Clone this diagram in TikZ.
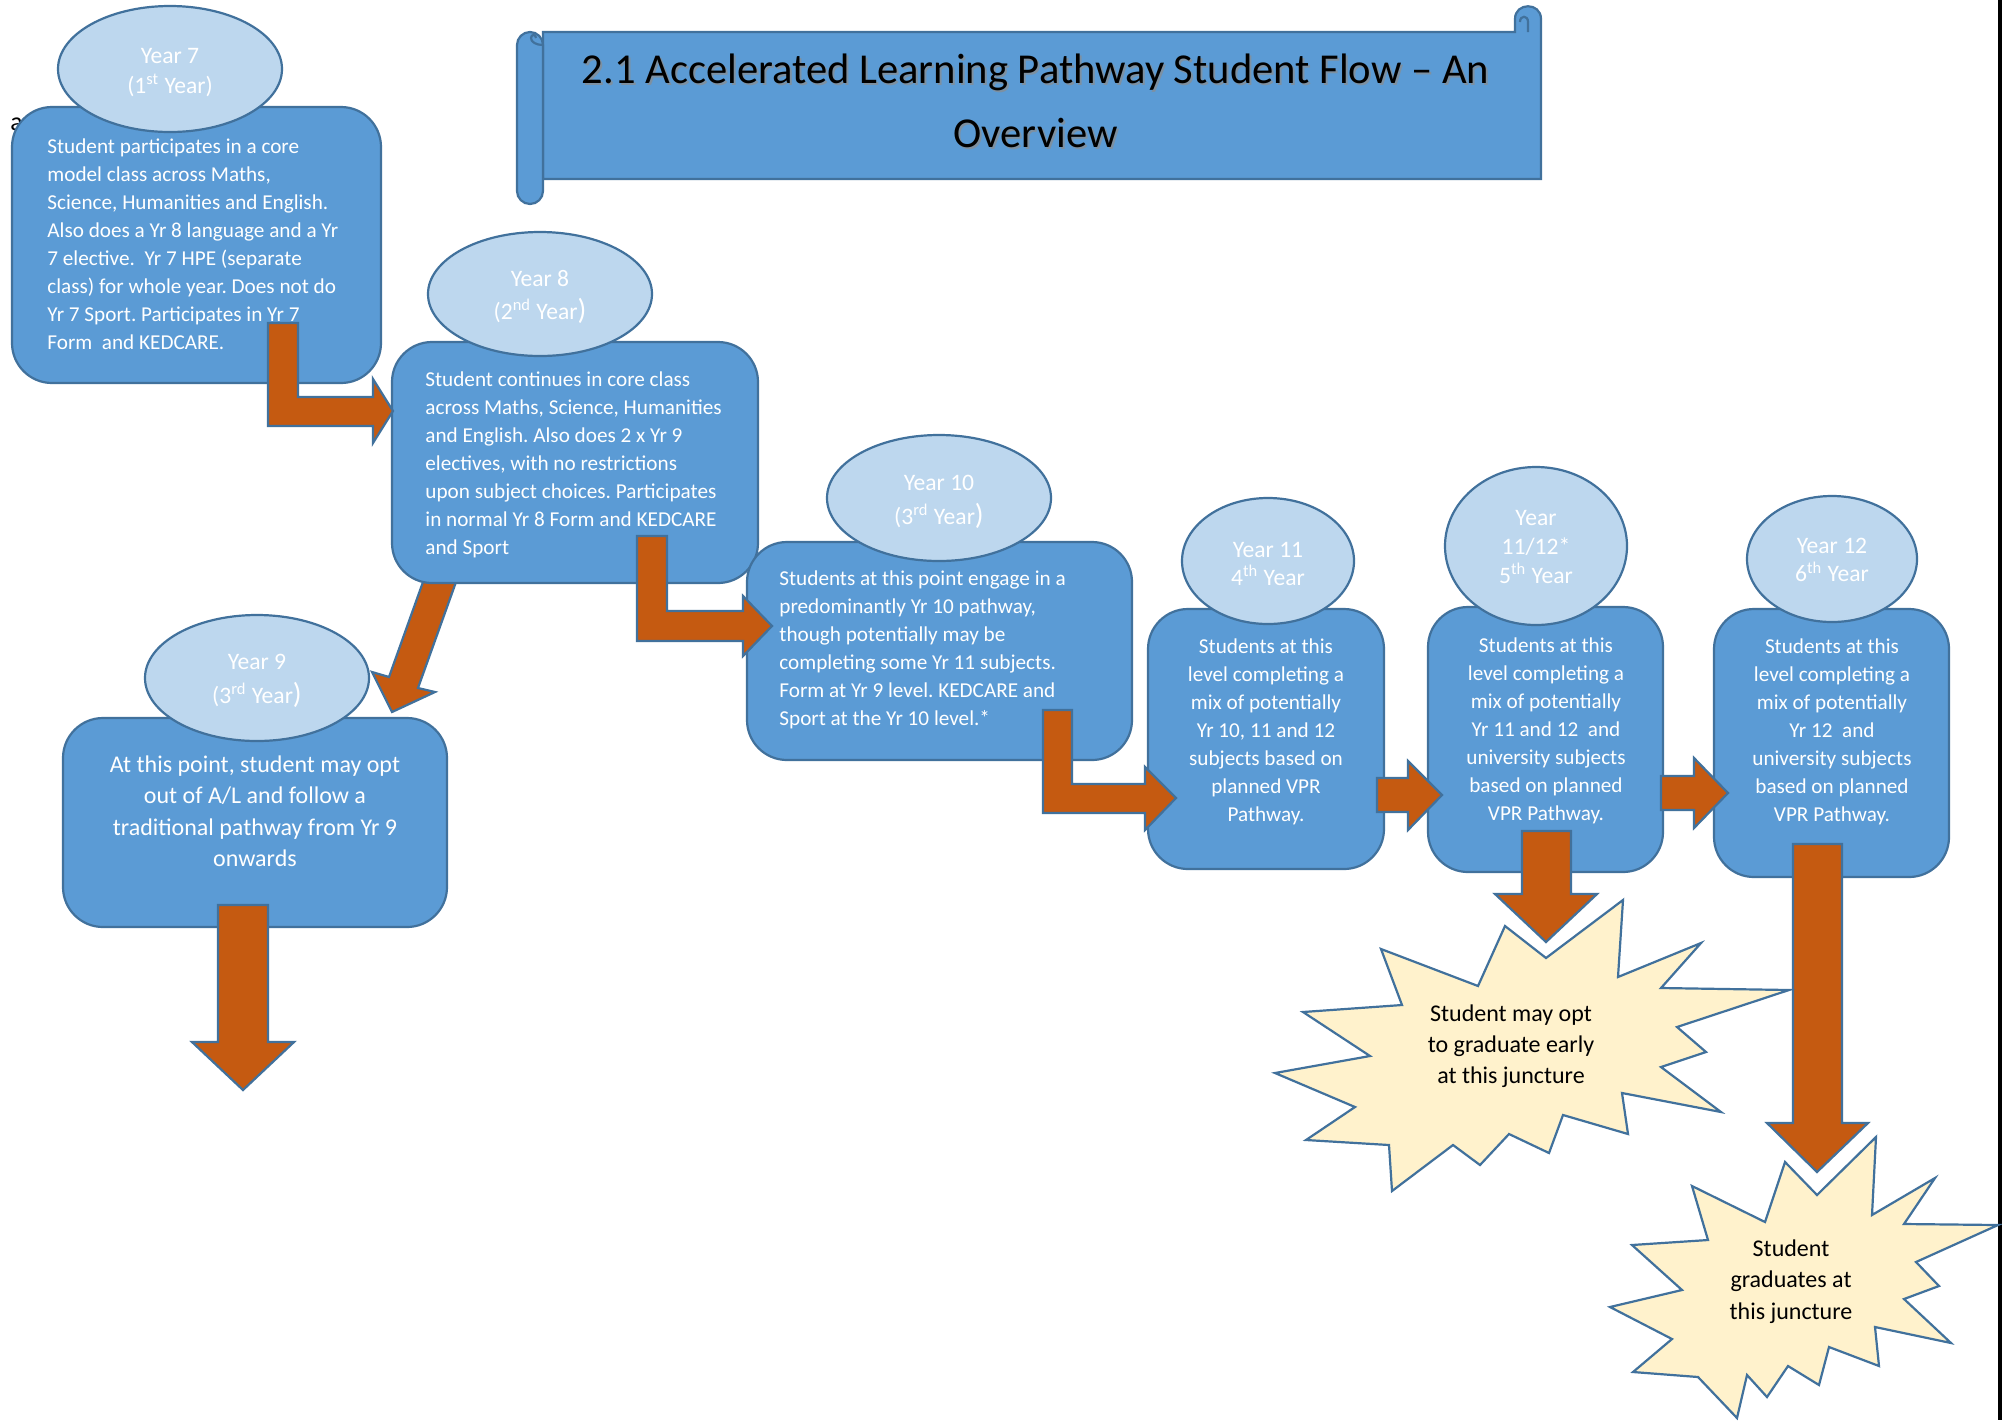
\documentclass[tikz,border=0pt]{standalone}
\usepackage{fontspec}
\setmainfont{Carlito}
\usetikzlibrary{shapes.geometric}
\definecolor{boxc}{RGB}{91,155,213}
\definecolor{bordc}{RGB}{65,113,156}
\definecolor{ovalc}{RGB}{189,215,238}
\definecolor{arrc}{RGB}{197,90,17}
\definecolor{burstc}{RGB}{255,242,204}
\newcommand\TL[1]{\vtop{\halign{##\hfil\cr#1\crcr}}}
\newcommand\TC[1]{\vtop{\halign{\hfil##\hfil\cr#1\crcr}}}
\newcommand\bodyfont{\fontsize{10.6}{14}\selectfont}
\newcommand\bp{{\fontsize{14.5}{15}\selectfont )}}
\frenchspacing
\tikzset{
  box/.style={draw=bordc, fill=boxc, line width=1.1pt, rounded corners=20pt, inner sep=0pt},
  oval/.style={ellipse, draw=bordc, fill=ovalc, line width=1.1pt, inner sep=0pt},
  barrow/.style={draw=bordc, fill=arrc, line width=1.1pt, line join=miter},
  burst/.style={draw=bordc, fill=burstc, line width=1.1pt, line join=miter},
  banner/.style={draw=bordc, fill=boxc, line width=1.1pt},
  btext/.style={font=\bodyfont, text=white, inner sep=0pt},
  otext/.style={text=white, inner sep=0pt, anchor=base},
  ktext/.style={font=\fontsize{12}{15.8}\selectfont, text=black, inner sep=0pt, anchor=base},
}
\begin{document}
\begin{tikzpicture}[x=0.5pt,y=-0.5pt]
\useasboundingbox (0,0) rectangle (2002,1420);
\fill[white] (0,0) rectangle (2002,1420);
\fill[black] (1997.5,0) rectangle (2002,1420);

% stray letter
\node[anchor=base west, inner sep=0pt, font=\fontsize{13}{15}\selectfont] (stray) at (10,130) {a};

% banner
\draw[banner] (543,32) -- (1515,32) -- (1515,19) .. controls (1515,2) and (1541,2) .. (1541,19) -- (1541,179) -- (543,179) -- cycle;
\draw[bordc, line width=1.1pt] (1528,32) -- (1528,22) .. controls (1528,15) and (1520,15) .. (1520,22);
\draw[banner, rounded corners=6.5pt] (517,32) rectangle (543,204);
\draw[bordc, line width=1.1pt] (543,45) .. controls (536,45) and (531,42) .. (531,38) .. controls (531,34) and (536,34) .. (536,38);
\node[anchor=base, inner sep=0pt, text=black!45, opacity=0.7, font=\fontsize{21.3}{32}\selectfont] (titleshadow) at (1037.5,85) {\TC{2.1 Accelerated Learning Pathway Student Flow – An\cr Overview}};
\node[anchor=base, inner sep=0pt, text=black, font=\fontsize{21.3}{32}\selectfont] (title) at (1035.5,83) {\TC{2.1 Accelerated Learning Pathway Student Flow – An\cr Overview}};

% diagonal arrow Year 8 -> Year 9 (under box 8)
\draw[barrow] (423,582) -- (389,677) -- (372,672) -- (392,712) -- (435,692) -- (418,688) -- (456,582) -- cycle;

% Year 7
\node[box, minimum width=184.5pt, minimum height=138pt] (b7) at (196.5,245) {};
\node[oval, minimum width=112pt, minimum height=63pt] (e7) at (170,69) {};
\node[otext, font=\fontsize{11.8}{15}\selectfont] (l7) at (170,63) {\TC{Year 7\cr (1\textsuperscript{st} Year)}};
\node[btext, anchor=base west] (t7) at (47,153) {\TL{Student participates in a core\cr model class across Maths,\cr Science, Humanities and English.\cr Also does a Yr 8 language and a Yr\cr 7 elective.\ \ Yr 7 HPE (separate\cr class) for whole year. Does not do\cr Yr 7 Sport. Participates in Yr 7\cr Form\ \ and KEDCARE.}};

% Year 8
\node[box, minimum width=183pt, minimum height=120.5pt] (b8) at (575,462.5) {};
\node[oval, minimum width=112pt, minimum height=62pt] (e8) at (540,294) {};
\node[otext, font=\fontsize{11.8}{16.5}\selectfont] (l8) at (540,286) {\TC{Year 8\cr (2\textsuperscript{nd} Year\bp}};
\node[btext, anchor=base west] (t8) at (425,386) {\TL{Student continues in core class\cr across Maths, Science, Humanities\cr and English. Also does 2 x Yr 9\cr electives, with no restrictions\cr upon subject choices. Participates\cr in normal Yr 8 Form and KEDCARE\cr and Sport}};

% Year 9
\node[box, minimum width=192pt, minimum height=104.5pt] (b9) at (255,822.5) {};
\node[oval, minimum width=112pt, minimum height=63pt] (e9) at (257,678) {};
\node[otext, font=\fontsize{11.8}{17}\selectfont] (l9) at (257,669) {\TC{Year 9\cr (3\textsuperscript{rd} Year\bp}};
\node[btext, anchor=base, font=\fontsize{12}{15.8}\selectfont] (t9) at (255,772) {\TC{At this point, student may opt\cr out of A/L and follow a\cr traditional pathway from Yr 9\cr onwards}};

% Year 10
\node[box, minimum width=192.5pt, minimum height=109pt] (b10) at (939.5,651) {};
\node[oval, minimum width=112pt, minimum height=63pt] (e10) at (939,498) {};
\node[otext, font=\fontsize{11.8}{17}\selectfont] (l10) at (939,490) {\TC{Year 10\cr (3\textsuperscript{rd} Year\bp}};
\node[btext, anchor=base west] (t10) at (779,585) {\TL{Students at this point engage in a\cr predominantly Yr 10 pathway,\cr though potentially may be\cr completing some Yr 11 subjects.\cr Form at Yr 9 level. KEDCARE and\cr Sport at the Yr 10 level.*}};

% Year 11
\node[box, minimum width=118pt, minimum height=130pt] (b11) at (1266,739) {};
\node[oval, minimum width=86pt, minimum height=63pt] (e11) at (1268,561) {};
\node[otext, font=\fontsize{11.8}{14.2}\selectfont] (l11) at (1268,557) {\TC{Year 11\cr 4\textsuperscript{th} Year}};
\node[btext, anchor=base] (t11) at (1266,653) {\TC{Students at this\cr level completing a\cr mix of potentially\cr Yr 10, 11 and 12\cr subjects based on\cr planned VPR\cr Pathway.}};

% Year 11/12
\node[box, minimum width=117.5pt, minimum height=132.5pt] (b1112) at (1545.5,739.5) {};
\node[oval, minimum width=91pt, minimum height=79pt] (e1112) at (1536,546) {};
\node[otext, font=\fontsize{11.8}{14.6}\selectfont] (l1112) at (1536,525) {\TC{Year\cr 11/12*\cr 5\textsuperscript{th} Year}};
\node[btext, anchor=base] (t1112) at (1546,652) {\TC{Students at this\cr level completing a\cr mix of potentially\cr Yr 11 and 12\ \ and\cr university subjects\cr based on planned\cr VPR Pathway.}};

% Year 12
\node[box, minimum width=117.5pt, minimum height=134pt] (b12) at (1831.5,743) {};
\node[oval, minimum width=85pt, minimum height=63pt] (e12) at (1832,559) {};
\node[otext, font=\fontsize{11.8}{14.4}\selectfont] (l12) at (1832,553) {\TC{Year 12\cr 6\textsuperscript{th} Year}};
\node[btext, anchor=base] (t12) at (1832,653) {\TC{Students at this\cr level completing a\cr mix of potentially\cr Yr 12\ \ and\cr university subjects\cr based on planned\cr VPR Pathway.}};

% block arrows
\draw[barrow] (268,323) -- (298,323) -- (298,397) -- (373,397) -- (373,379) -- (393,411) -- (373,443) -- (373,426) -- (268,426) -- cycle;
\draw[barrow] (637,536) -- (667,536) -- (667,611) -- (743,611) -- (743,596) -- (772,626) -- (743,656) -- (743,641) -- (637,641) -- cycle;
\draw[barrow] (1043,710) -- (1072,710) -- (1072,784) -- (1145,784) -- (1145,767) -- (1176,798) -- (1145,830) -- (1145,813) -- (1043,813) -- cycle;
\draw[barrow] (1377,778) -- (1408,778) -- (1408,761) -- (1442,795) -- (1408,830) -- (1408,812) -- (1377,812) -- cycle;
\draw[barrow] (1661,776) -- (1694,776) -- (1694,758) -- (1728,793) -- (1694,828) -- (1694,810) -- (1661,810) -- cycle;
\draw[barrow] (218,905) -- (268,905) -- (268,1042) -- (294,1042) -- (243,1090) -- (192,1042) -- (218,1042) -- cycle;
\draw[barrow] (1522,831) -- (1571,831) -- (1571,894) -- (1597,894) -- (1546,942) -- (1495,894) -- (1522,894) -- cycle;
\draw[barrow] (1793,844) -- (1842,844) -- (1842,1123) -- (1868,1123) -- (1817,1172) -- (1767,1123) -- (1793,1123) -- cycle;

% starbursts
\draw[burst] (1546,958) -- (1623,900) -- (1618,977) -- (1701,943) -- (1661,988) -- (1789,990) -- (1677,1027) -- (1706,1052) -- (1661,1067) -- (1721,1112) -- (1622,1093) -- (1628,1134) -- (1563,1115) -- (1549,1153) -- (1509,1134) -- (1480,1165) -- (1453,1145) -- (1392,1191) -- (1389,1145) -- (1306,1140) -- (1355,1107) -- (1275,1073) -- (1370,1056) -- (1303,1012) -- (1402,1005) -- (1381,949) -- (1478,986) -- (1505,926) -- cycle;
\node[ktext, font=\fontsize{12}{15.6}\selectfont] (s1) at (1511,1021) {\TC{Student may opt\cr to graduate early\cr at this juncture}};
\draw[burst] (1817,1195) -- (1876,1137) -- (1872,1215) -- (1935,1178) -- (1904,1224) -- (1998,1225) -- (1916,1262) -- (1939,1286) -- (1904,1299) -- (1951,1343) -- (1875,1327) -- (1879,1366) -- (1829,1347) -- (1819,1385) -- (1788,1366) -- (1767,1397) -- (1747,1375) -- (1737,1418) -- (1698,1377) -- (1633,1372) -- (1672,1339) -- (1610,1307) -- (1682,1290) -- (1632,1245) -- (1708,1240) -- (1692,1186) -- (1765,1222) -- (1785,1162) -- cycle;
\node[ktext] (s2) at (1791,1256) {\TC{Student\cr graduates at\cr this juncture}};
\end{tikzpicture}
\end{document}
